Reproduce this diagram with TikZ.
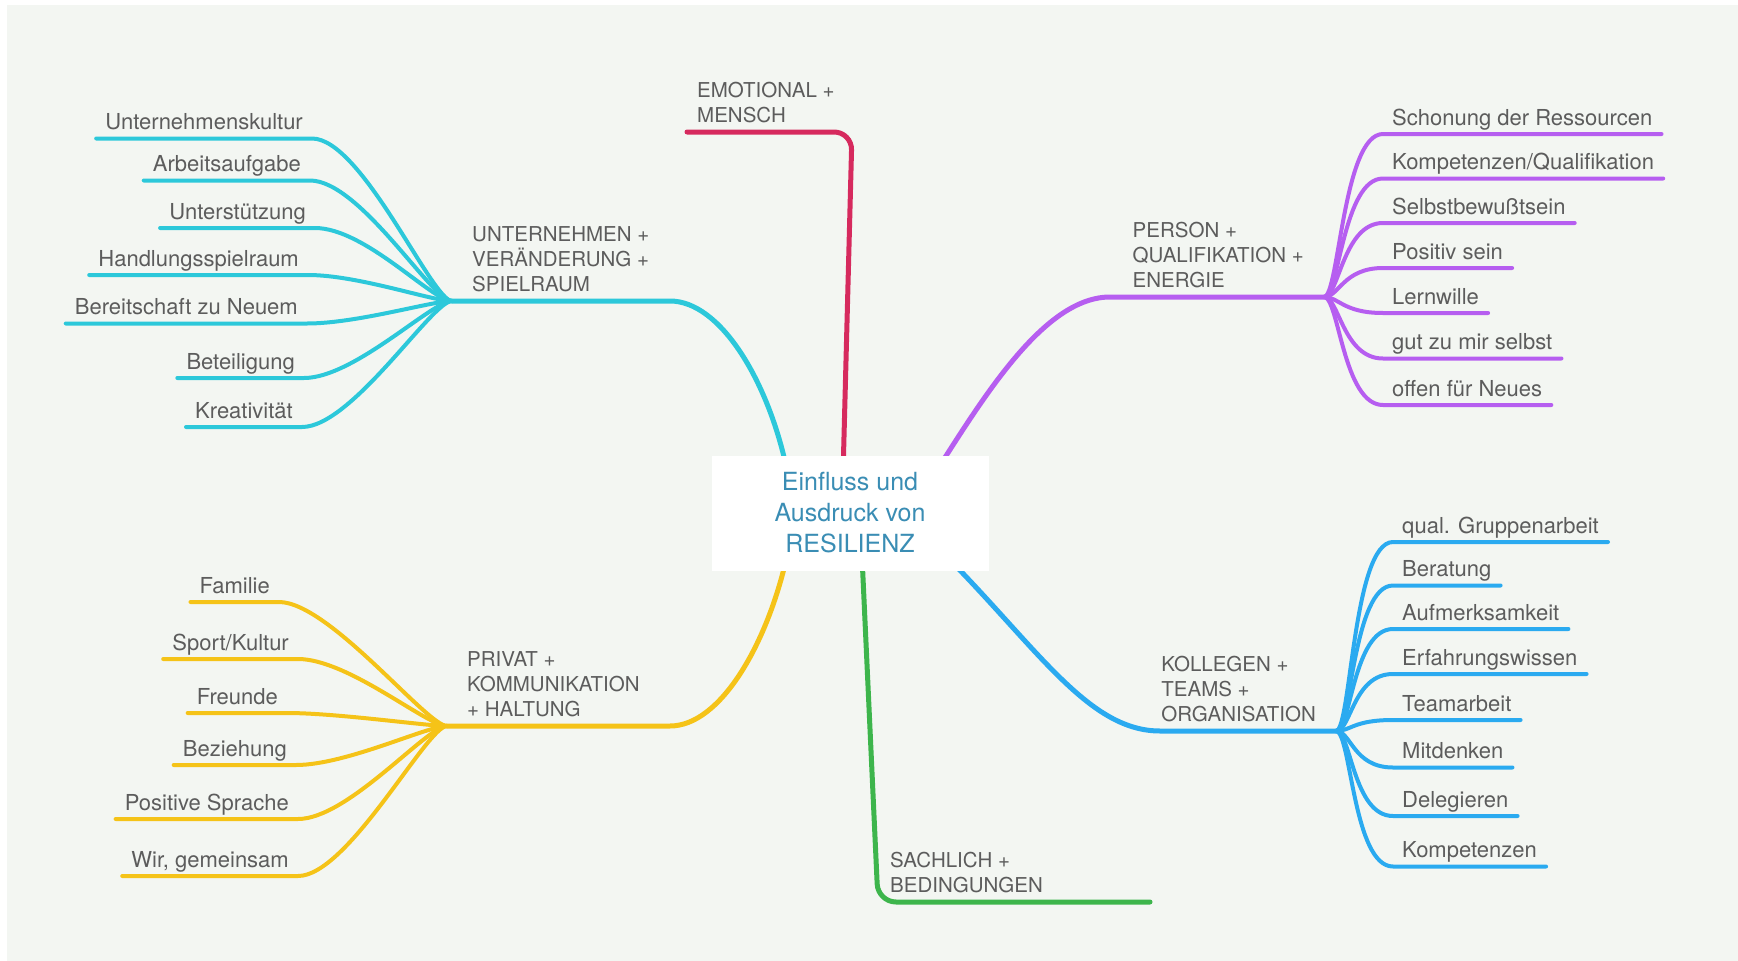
\documentclass[tikz,border=0pt]{standalone}
\usepackage{fontspec}
\setmainfont{TeX Gyre Heros}
\usetikzlibrary{positioning}
\pgfdeclarelayer{background}
\pgfsetlayers{background,main}

\definecolor{bgcol}{HTML}{F3F6F2}
\definecolor{txtcol}{HTML}{5C5C5C}
\definecolor{midcol}{HTML}{3A8DB4}
\definecolor{cyancol}{HTML}{2CC8DA}
\definecolor{violetcol}{HTML}{B65EF0}
\definecolor{bluecol}{HTML}{2AAAF0}
\definecolor{yellowcol}{HTML}{F5C318}
\definecolor{redcol}{HTML}{D62A5E}
\definecolor{greencol}{HTML}{3DB54C}

\tikzset{
    core/.style={fill=white, minimum width=277pt, minimum height=115pt, align=center,
        text=midcol, font=\fontsize{25}{31}\selectfont},
    branch/.style={font=\fontsize{20.5}{25}\selectfont, text=txtcol, align=left,
        inner xsep=20pt, inner ysep=9pt},
    leaf/.style={font=\fontsize{22}{26}\selectfont, text=txtcol,
        inner xsep=9pt, inner ysep=8.5pt, text depth=0pt},
    twig/.style={line width=4pt, line cap=round},
    limb/.style={line width=5pt, line cap=round},
}

\begin{document}
\begin{tikzpicture}[x=1pt, y=-1pt]
    \useasboundingbox (0,0) rectangle (1738,961);

    % centre and the six main topics
    \node[core] (center) at (850,513) {Einfluss und\\Ausdruck von\\RESILIENZ};
    \node[branch, anchor=south west] (unt) at (452,301) {UNTERNEHMEN +\\VERÄNDERUNG +\\SPIELRAUM};
    \node[branch, anchor=south east] (per) at (1324,297) {PERSON +\\QUALIFIKATION +\\ENERGIE};
    \node[branch, anchor=south east] (kol) at (1336,731) {KOLLEGEN +\\TEAMS +\\ORGANISATION};
    \node[branch, anchor=south west] (pri) at (447,726) {PRIVAT +\\KOMMUNIKATION\\+ HALTUNG};
    \node[branch, anchor=south west, inner xsep=10pt] (emo) at (687,132) {EMOTIONAL +\\MENSCH};
    \node[branch, anchor=south west, inner xsep=12pt] (sach) at (878,902) {SACHLICH +\\BEDINGUNGEN};
    \coordinate (sachEnd) at (1150,902);

    % leaves on the left
    \foreach \x/\y/\t [count=\i] in {312/138.5/Unternehmenskultur, 310/180.5/Arbeitsaufgabe,
        315/228/Unterstützung, 308/275/Handlungsspielraum, 307/323.5/Bereitschaft zu Neuem,
        304/378/Beteiligung, 302/427/Kreativität} {
        \node[leaf, anchor=south east] (unt\i) at (\x,\y) {\t};
        \draw[twig, cyancol] (unt\i.south west) -- (unt\i.south east)
            .. controls +(50,0) and +(-20,0) .. (unt.south west);
    }
    \foreach \x/\y/\t [count=\i] in {279/602/Familie, 298/659/{Sport/Kultur}, 287/713/Freunde,
        296/765/Beziehung, 298/819/Positive Sprache, 298/876/{Wir, gemeinsam}} {
        \node[leaf, anchor=south east] (pri\i) at (\x,\y) {\t};
        \draw[twig, yellowcol] (pri\i.south west) -- (pri\i.south east)
            .. controls +(50,0) and +(-20,0) .. (pri.south west);
    }

    % leaves on the right
    \foreach \y/\t [count=\i] in {134/Schonung der Ressourcen, 178.5/{Kompetenzen/Qualifikation},
        223/Selbstbewußtsein, 268/Positiv sein, 313/Lernwille, 358.5/gut zu mir selbst,
        405/offen für Neues} {
        \node[leaf, anchor=south west] (per\i) at (1383,\y) {\t};
        \draw[twig, violetcol] (per.south east) .. controls +(15,0) and +(-40,0)
            .. (per\i.south west) -- (per\i.south east);
    }
    \foreach \y/\t [count=\i] in {542/qual. Gruppenarbeit, 585.5/Beratung, 629/Aufmerksamkeit,
        674/Erfahrungswissen, 720/Teamarbeit, 767.5/Mitdenken, 816/Delegieren, 866.5/Kompetenzen} {
        \node[leaf, anchor=south west] (kol\i) at (1393,\y) {\t};
        \draw[twig, bluecol] (kol.south east) .. controls +(15,0) and +(-40,0)
            .. (kol\i.south west) -- (kol\i.south east);
    }

    % main branches, under the centre box
    \begin{pgfonlayer}{background}
        \fill[white] (0,0) rectangle (1738,961);
        \fill[bgcol] (7,5) rectangle (1738,961);
        \draw[limb, cyancol] (center.center) -- (787,470)
            .. controls (768,380) and (720,301) .. (670,301) -- (unt.south west);
        \draw[limb, violetcol] (center.center) -- (937,470)
            .. controls (985,395) and (1045,297) .. (1110,297) -- (per.south east);
        \draw[limb, bluecol] (center.center) -- (950,560)
            .. controls (1040,652) and (1090,731) .. (1160,731) -- (kol.south east);
        \draw[limb, yellowcol] (center.center) -- (787,556)
            .. controls (767,645) and (720,726) .. (670,726) -- (pri.south west);
        \draw[limb, redcol, rounded corners=18pt] (center.center) ++(-8,0) -- (852,132) -- (emo.south west);
        \draw[limb, greencol, rounded corners=18pt] (center.center) ++(10,0) -- (878,902) -- (sachEnd);
    \end{pgfonlayer}
\end{tikzpicture}
\end{document}
